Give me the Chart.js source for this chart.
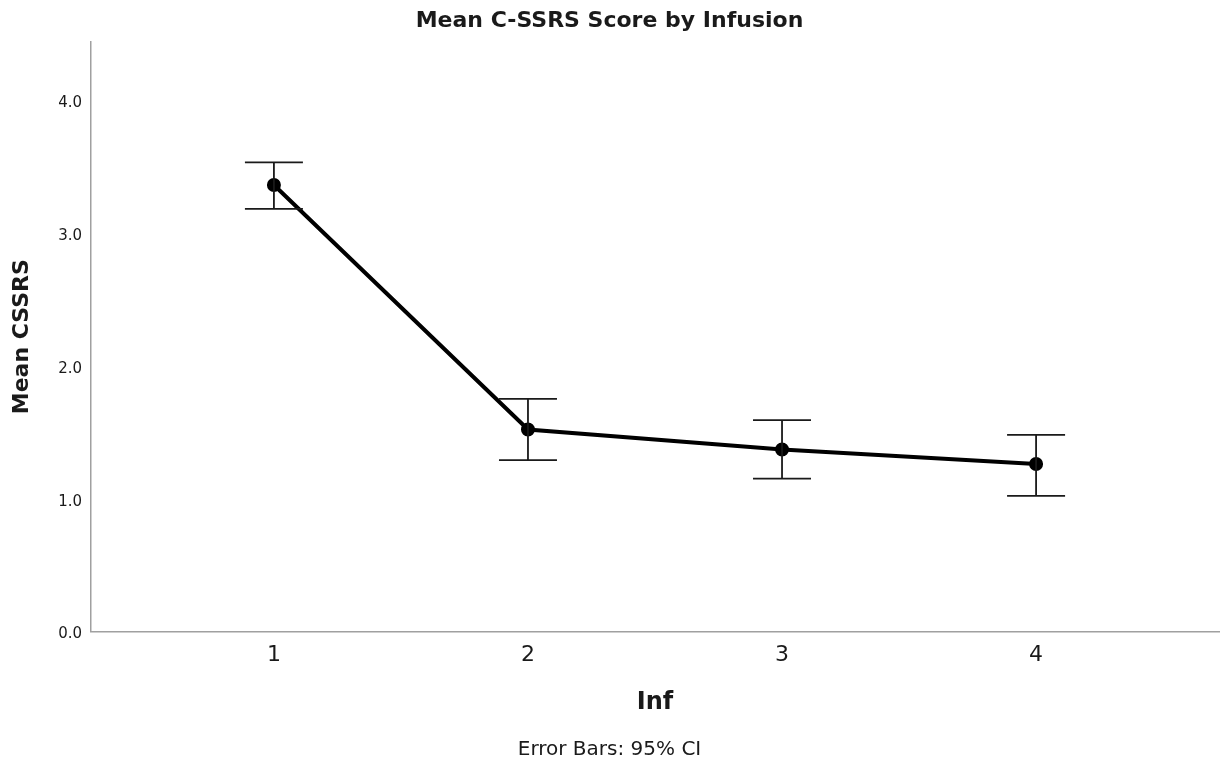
<!DOCTYPE html>
<html>
<head>
<meta charset="utf-8">
<title>Mean C-SSRS Score by Infusion</title>
<script src="https://cdn.jsdelivr.net/npm/chart.js@4.4.1/dist/chart.umd.min.js"></script>
<style>
  html, body { margin: 0; padding: 0; background: #fff; }
  #wrap { width: 1222px; height: 766px; }
</style>
</head>
<body>
<div id="wrap"><canvas id="myChart" width="1222" height="766"></canvas></div>
<script>
// ***** data *****
var infusions = [1, 2, 3, 4];
var meanScores = [3.36, 1.52, 1.37, 1.26];
var ciLower = [3.18, 1.29, 1.15, 1.02];
var ciUpper = [3.53, 1.75, 1.59, 1.48];
var yTicks = [0, 1, 2, 3, 4];

var fontFamily = "'DejaVu Sans', sans-serif";
var textColor = "#1a1a1a";

// error bars drawn with the chart's own scales
var errorBars = {
  id: "errorBars",
  afterDatasetsDraw: function(chart) {
    var ctx = chart.ctx;
    var x = chart.scales.x;
    var y = chart.scales.y;
    ctx.save();
    ctx.strokeStyle = "#1a1a1a";
    ctx.lineWidth = 1.8;
    for (var i = 0; i < infusions.length; i++) {
      var px = x.getPixelForValue(infusions[i]);
      var top = y.getPixelForValue(ciUpper[i]);
      var bottom = y.getPixelForValue(ciLower[i]);
      ctx.beginPath();
      ctx.moveTo(px, top);
      ctx.lineTo(px, bottom);
      ctx.moveTo(px - 29, top);
      ctx.lineTo(px + 29, top);
      ctx.moveTo(px - 29, bottom);
      ctx.lineTo(px + 29, bottom);
      ctx.stroke();
    }
    ctx.restore();
  }
};

var myChart = document.getElementById("myChart").getContext("2d");
var cssrsChart = new Chart(myChart, {
  type: "line",
  data: {
    datasets: [{
      label: "Mean CSSRS",
      data: infusions.map(function(v, i) { return { x: v, y: meanScores[i] }; }),
      borderColor: "#000",
      backgroundColor: "#000",
      borderWidth: 4,
      pointRadius: 5,
      pointHoverRadius: 5,
      tension: 0
    }]
  },
  options: {
    responsive: false,
    animation: false,
    layout: { autoPadding: false, padding: { left: 0, right: 3, top: 0, bottom: 0 } },
    plugins: {
      legend: { display: false },
      tooltip: { enabled: false },
      title: {
        display: true,
        text: "Mean C-SSRS Score by Infusion",
        color: textColor,
        font: { family: fontFamily, size: 22, weight: "bold" },
        padding: { top: 8, bottom: 7.6 }
      },
      subtitle: {
        display: true,
        position: "bottom",
        text: "Error Bars: 95% CI",
        color: textColor,
        font: { family: fontFamily, size: 20 },
        padding: { top: 8, bottom: 4 }
      }
    },
    scales: {
      x: {
        type: "linear",
        min: 0.28,
        max: 4.72,
        afterBuildTicks: function(scale) {
          scale.ticks = infusions.map(function(v) { return { value: v }; });
        },
        afterFit: function(scale) { scale.height = 98.5; },
        grid: { display: false, drawTicks: false },
        border: { display: true, color: "#a0a0a0", width: 1.5 },
        ticks: {
          padding: 11,
          color: textColor,
          font: { family: fontFamily, size: 22 }
        },
        title: {
          display: true,
          text: "Inf",
          color: textColor,
          font: { family: fontFamily, size: 24, weight: "bold" },
          padding: { top: 0, bottom: 12.6 }
        }
      },
      y: {
        min: 0,
        max: 4.436,
        afterBuildTicks: function(scale) {
          scale.ticks = yTicks.map(function(v) { return { value: v }; });
        },
        afterFit: function(scale) { scale.width = 91; },
        grid: { display: false, drawTicks: false },
        border: { display: true, color: "#a0a0a0", width: 1.5 },
        ticks: {
          padding: 9,
          labelOffset: 3,
          color: textColor,
          font: { family: fontFamily, size: 15 },
          callback: function(v) { return Number(v).toFixed(1); }
        },
        title: {
          display: true,
          text: "Mean CSSRS",
          color: textColor,
          font: { family: fontFamily, size: 22, weight: "bold" },
          padding: { top: 9.3, bottom: 0 }
        }
      }
    }
  },
  plugins: [errorBars]
});
</script>
</body>
</html>
